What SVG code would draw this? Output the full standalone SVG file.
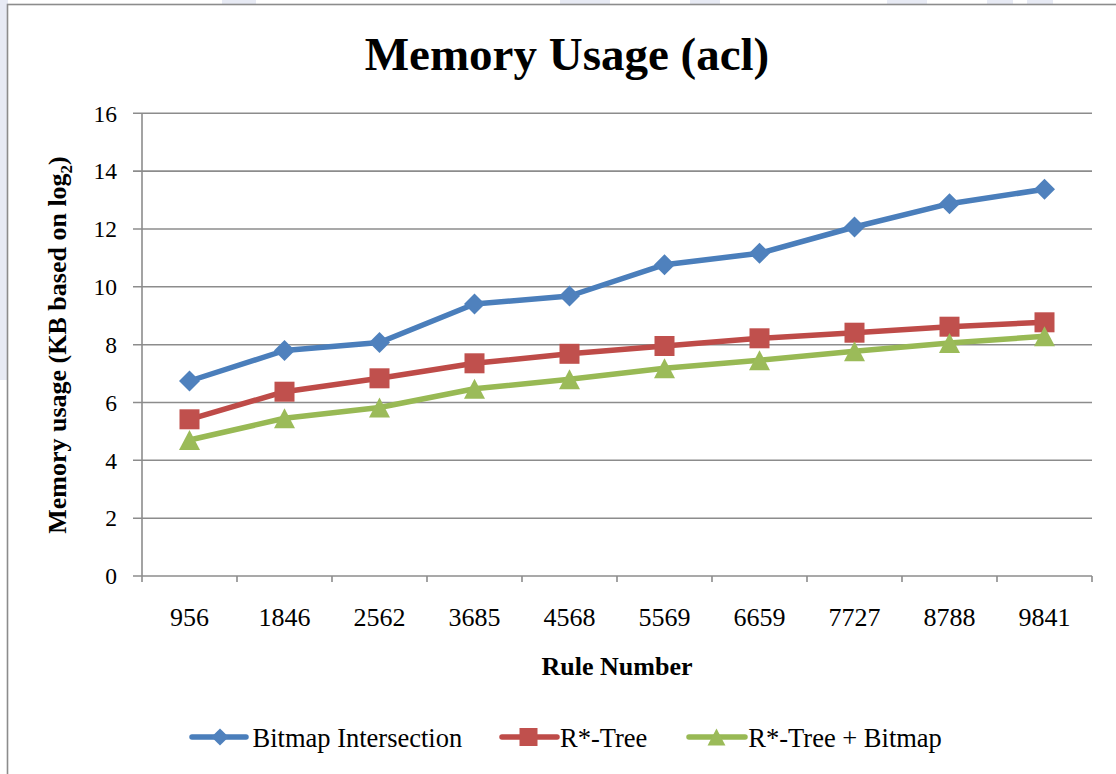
<svg xmlns="http://www.w3.org/2000/svg" width="1116" height="774" viewBox="0 0 1116 774">
  <style>
    .grid { stroke: #8c8c8c; stroke-width: 1.6; fill: none; }
    .axis { stroke: #8c8c8c; stroke-width: 1.6; fill: none; }
    .frame { stroke: #8c8c8c; stroke-width: 1.6; fill: #ffffff; }
    .ylab { font-family: "Liberation Serif", "Times New Roman", serif; font-size: 23.5px; fill: #000; text-anchor: end; }
    .xlab { font-family: "Liberation Serif", "Times New Roman", serif; font-size: 26px; fill: #000; text-anchor: middle; }
    .title { font-family: "Liberation Serif", "Times New Roman", serif; font-size: 47px; font-weight: bold; fill: #000; text-anchor: middle; }
    .atitle { font-family: "Liberation Serif", "Times New Roman", serif; font-size: 26px; font-weight: bold; fill: #000; text-anchor: middle; }
    .leg { font-family: "Liberation Serif", "Times New Roman", serif; font-size: 26.5px; fill: #000; }
    .line { fill: none; stroke-width: 5.5; stroke-linejoin: round; stroke-linecap: round; }
    .blue { stroke: #4a7ebb; }
    .red { stroke: #be4b48; }
    .green { stroke: #98b954; }
  </style>
  <defs>
    <polygon id="diamond" points="0,-10.5 10.5,0 0,10.5 -10.5,0" fill="#4f81bd"/>
    <rect id="square" x="-10" y="-10" width="20" height="20" fill="#c0504d"/>
    <polygon id="triangle" points="0,-10 10.5,10 -10.5,10" fill="#9bbb59"/>
  </defs>

  <!-- page background with faint watermark strokes peeking around the chart frame -->
  <rect x="0" y="0" width="1116" height="774" fill="#ffffff"/>
  <g id="watermark" fill="#e7eaf4">
    <rect x="0" y="0" width="8" height="380"/>
    <rect x="222" y="0" width="34" height="5"/>
    <rect x="560" y="0" width="50" height="5"/>
    <rect x="690" y="0" width="30" height="5"/>
    <rect x="887" y="0" width="40" height="5"/>
    <rect x="987" y="0" width="26" height="5"/>
    <rect x="1027" y="0" width="26" height="5"/>
  </g>

  <!-- chart area frame -->
  <rect class="frame" x="7.5" y="4.5" width="1120" height="780"/>

  <!-- title -->
  <text id="title" class="title" x="567" y="70">Memory Usage (acl)</text>

  <!-- horizontal gridlines and value axis -->
  <g id="gridlines">
    <line class="grid" x1="133" y1="113.3" x2="1092" y2="113.3"/>
    <line class="grid" x1="133" y1="171.1" x2="1092" y2="171.1"/>
    <line class="grid" x1="133" y1="229" x2="1092" y2="229"/>
    <line class="grid" x1="133" y1="286.8" x2="1092" y2="286.8"/>
    <line class="grid" x1="133" y1="344.7" x2="1092" y2="344.7"/>
    <line class="grid" x1="133" y1="402.5" x2="1092" y2="402.5"/>
    <line class="grid" x1="133" y1="460.3" x2="1092" y2="460.3"/>
    <line class="grid" x1="133" y1="518.2" x2="1092" y2="518.2"/>
    <line class="grid" x1="133" y1="576" x2="1092" y2="576"/>
  </g>
  <g id="axes">
    <line class="axis" x1="142" y1="113.3" x2="142" y2="582"/>
    <path class="axis" d="M237,576V582 M332,576V582 M427,576V582 M522,576V582 M617,576V582 M712,576V582 M807,576V582 M902,576V582 M997,576V582 M1092,576V582"/>
  </g>

  <g id="y-labels">
    <text class="ylab" x="117" y="121.5">16</text>
    <text class="ylab" x="117" y="179.3">14</text>
    <text class="ylab" x="117" y="237.2">12</text>
    <text class="ylab" x="117" y="295">10</text>
    <text class="ylab" x="117" y="352.9">8</text>
    <text class="ylab" x="117" y="410.7">6</text>
    <text class="ylab" x="117" y="468.5">4</text>
    <text class="ylab" x="117" y="526.4">2</text>
    <text class="ylab" x="117" y="584.2">0</text>
  </g>

  <g id="x-labels">
    <text class="xlab" x="189.5" y="626">956</text>
    <text class="xlab" x="284.5" y="626">1846</text>
    <text class="xlab" x="379.5" y="626">2562</text>
    <text class="xlab" x="474.5" y="626">3685</text>
    <text class="xlab" x="569.5" y="626">4568</text>
    <text class="xlab" x="664.5" y="626">5569</text>
    <text class="xlab" x="759.5" y="626">6659</text>
    <text class="xlab" x="854.5" y="626">7727</text>
    <text class="xlab" x="949.5" y="626">8788</text>
    <text class="xlab" x="1044.5" y="626">9841</text>
  </g>

  <text id="x-title" class="atitle" x="617" y="675">Rule Number</text>
  <text id="y-title" class="atitle" transform="translate(66,345) rotate(-90)">Memory usage (KB based on log<tspan font-size="17" dy="6">2</tspan><tspan dy="-6">)</tspan></text>

  <!-- data series -->
  <g id="connectors">
    <polyline class="line blue" points="189.5,381 284.5,350.5 379.5,342.5 474.5,304 569.5,296 664.5,264.7 759.5,253.3 854.5,227 949.5,203.7 1044.5,189.3"/>
    <polyline class="line red" points="189.5,419.3 284.5,391.7 379.5,378.3 474.5,363.3 569.5,353.8 664.5,346 759.5,338.3 854.5,332.7 949.5,326.7 1044.5,322.3"/>
    <polyline class="line green" points="189.5,440 284.5,418.3 379.5,407.5 474.5,388.8 569.5,379.3 664.5,368.3 759.5,360.3 854.5,351.3 949.5,343 1044.5,336.3"/>
  </g>

  <g id="series-bitmap-intersection">
    <use href="#diamond" x="189.5" y="381"/>
    <use href="#diamond" x="284.5" y="350.5"/>
    <use href="#diamond" x="379.5" y="342.5"/>
    <use href="#diamond" x="474.5" y="304"/>
    <use href="#diamond" x="569.5" y="296"/>
    <use href="#diamond" x="664.5" y="264.7"/>
    <use href="#diamond" x="759.5" y="253.3"/>
    <use href="#diamond" x="854.5" y="227"/>
    <use href="#diamond" x="949.5" y="203.7"/>
    <use href="#diamond" x="1044.5" y="189.3"/>
  </g>
  <g id="series-rtree">
    <use href="#square" x="189.5" y="419.3"/>
    <use href="#square" x="284.5" y="391.7"/>
    <use href="#square" x="379.5" y="378.3"/>
    <use href="#square" x="474.5" y="363.3"/>
    <use href="#square" x="569.5" y="353.8"/>
    <use href="#square" x="664.5" y="346"/>
    <use href="#square" x="759.5" y="338.3"/>
    <use href="#square" x="854.5" y="332.7"/>
    <use href="#square" x="949.5" y="326.7"/>
    <use href="#square" x="1044.5" y="322.3"/>
  </g>
  <g id="series-rtree-bitmap">
    <use href="#triangle" x="189.5" y="440"/>
    <use href="#triangle" x="284.5" y="418.3"/>
    <use href="#triangle" x="379.5" y="407.5"/>
    <use href="#triangle" x="474.5" y="388.8"/>
    <use href="#triangle" x="569.5" y="379.3"/>
    <use href="#triangle" x="664.5" y="368.3"/>
    <use href="#triangle" x="759.5" y="360.3"/>
    <use href="#triangle" x="854.5" y="351.3"/>
    <use href="#triangle" x="949.5" y="343"/>
    <use href="#triangle" x="1044.5" y="336.3"/>
  </g>

  <!-- legend -->
  <g id="legend">
    <line class="line blue" x1="192" y1="737" x2="246" y2="737"/>
    <use href="#diamond" transform="translate(220,737) scale(0.82)"/>
    <text class="leg" x="252.5" y="746.5">Bitmap Intersection</text>
    <line class="line red" x1="502" y1="737" x2="557" y2="737"/>
    <use href="#square" transform="translate(528.5,737) scale(0.9)"/>
    <text class="leg" x="560" y="746.5">R*-Tree</text>
    <line class="line green" x1="689" y1="737" x2="745" y2="737"/>
    <use href="#triangle" transform="translate(716.5,737) scale(0.85)"/>
    <text class="leg" x="748.3" y="746.5">R*-Tree + Bitmap</text>
  </g>
</svg>
